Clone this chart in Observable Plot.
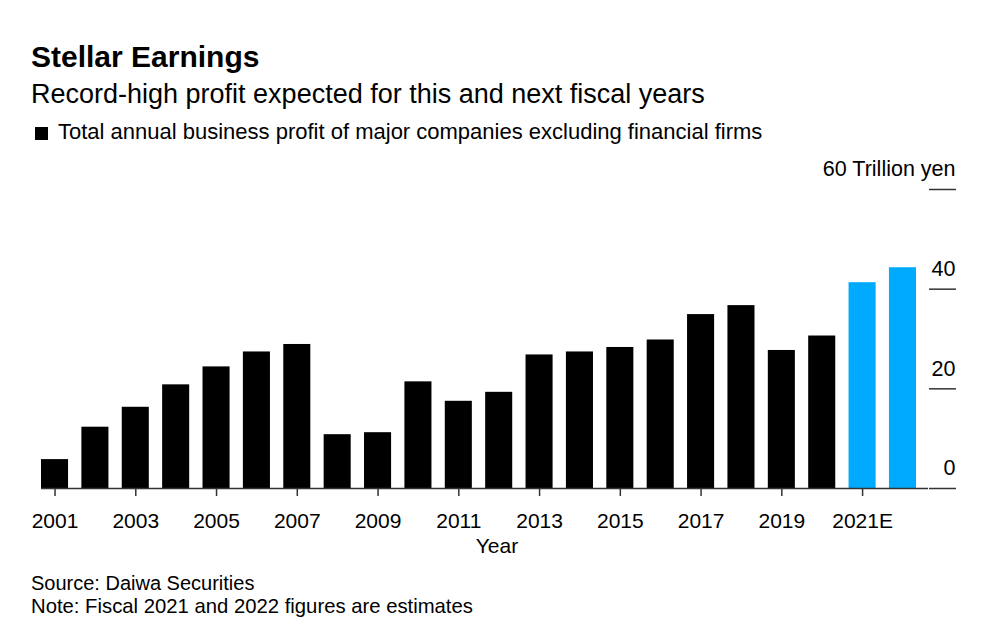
<!DOCTYPE html>
<html><head><meta charset="utf-8">
<script src="https://cdn.jsdelivr.net/npm/d3@7"></script>
<script src="https://cdn.jsdelivr.net/npm/@observablehq/plot@0.6"></script>
<style>
body{margin:0;background:#fff;font-family:"Liberation Sans",Arial,sans-serif;color:#000;}
#wrap{position:relative;width:984px;height:624px;overflow:hidden;background:#fff;}
.t{position:absolute;left:31px;white-space:nowrap;line-height:1;}
#title{top:42px;font-size:30px;font-weight:bold;}
#sub{top:81px;font-size:27px;}
#legsw{position:absolute;left:35px;top:127px;width:13px;height:13px;background:#000;}
#leg{top:121px;left:58px;font-size:22px;}
#src{top:573px;font-size:20px;}
#note{top:596px;font-size:20.3px;}
#chart{position:absolute;top:150px;left:0;}
</style>
</head><body>
<div id="wrap">
  <div id="title" class="t">Stellar Earnings</div>
  <div id="sub" class="t">Record-high profit expected for this and next fiscal years</div>
  <div id="legsw"></div>
  <div id="leg" class="t">Total annual business profit of major companies excluding financial firms</div>
  <div id="chart"></div>
  <div id="src" class="t">Source: Daiwa Securities</div>
  <div id="note" class="t">Note: Fiscal 2021 and 2022 figures are estimates</div>
</div>
<script>
const years = ["2001","2002","2003","2004","2005","2006","2007","2008","2009","2010","2011","2012","2013","2014","2015","2016","2017","2018","2019","2020","2021E","2022E"];
const profit = [5.8,12.3,16.3,20.8,24.4,27.4,28.9,10.8,11.2,21.4,17.5,19.3,26.8,27.4,28.3,29.8,34.9,36.7,27.7,30.6,41.3,44.3];
const kinds = ["Actual","Actual","Actual","Actual","Actual","Actual","Actual","Actual","Actual","Actual","Actual","Actual","Actual","Actual","Actual","Actual","Actual","Actual","Actual","Actual","Estimate","Estimate"];
const xTickLabels = ["2001","2003","2005","2007","2009","2011","2013","2015","2017","2019","2021E"];
const yTicks = [0,20,40,60];
const yUnit = "Trillion yen";
const xLabel = "Year";

const data = years.map((year,i)=>({year, value: profit[i], kind: kinds[i]}));

const chart = Plot.plot({
  width: 984, height: 410,
  marginLeft: 41, marginRight: 56, marginTop: 39, marginBottom: 72,
  x: {domain: years, range: [41, 916], paddingInner: 0.33, paddingOuter: 0, round: false},
  y: {domain: [0, 60]},
  color: {domain: ["Actual","Estimate"], range: ["#000000","#00aaff"]},
  style: {fontFamily: '"Liberation Sans", Arial, sans-serif', fontSize: "21px", color: "#000", background: "#fff", overflow: "visible"},
  marks: [
    Plot.barY(data, {x: "year", y: "value", fill: "kind"}),
    Plot.ruleY([0], {stroke: "#333", strokeWidth: 1.5}),
    Plot.axisX({ticks: xTickLabels, tickSize: 8, tickPadding: 17, stroke: "#333", strokeWidth: 1.5, fill: "#000", label: null, fontSize: 21}),
    Plot.axisY({anchor: "right", ticks: yTicks, tickSize: 27, stroke: "#333", strokeWidth: 1.5, label: null, tickFormat: () => ""}),
    Plot.axisY({anchor: "right", ticks: yTicks, tickSize: 0, tickPadding: 27, textAnchor: "end", dy: -20, fill: "#000", label: null, fontSize: 21.5,
      tickFormat: d => d === 60 ? `${d} ${yUnit}` : `${d}`}),
    Plot.text([xLabel], {frameAnchor: "bottom", dy: 64, dx: 12, fontSize: 21, fill: "#000"})
  ]
});
document.getElementById("chart").appendChild(chart);
</script>
</body></html>
